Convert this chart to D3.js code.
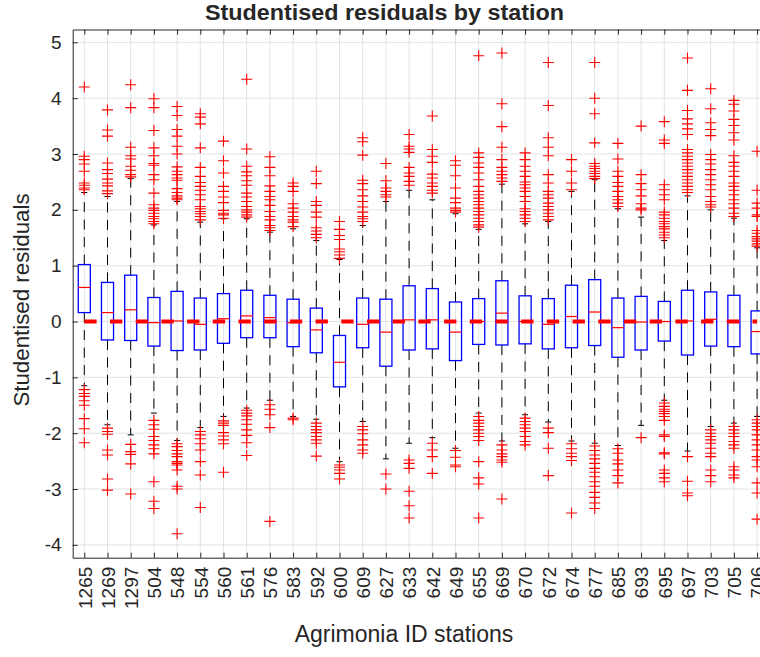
<!DOCTYPE html>
<html>
<head>
<meta charset="utf-8">
<script src="https://cdn.jsdelivr.net/npm/d3@7/dist/d3.min.js"></script>
<style>
  html, body { margin: 0; padding: 0; background: #fff; }
  svg { display: block; }
  text { font-family: "Liberation Sans", Arial, Helvetica, sans-serif; fill: #262626; }
</style>
</head>
<body>
<div id="chart"></div>
<script>
const stations = ["1265","1269","1297","504","548","554","560","561","576","583","592","600","609","627","633","642","649","655","669","670","672","674","677","685","693","695","697","703","705","706"];
const q3 = [1.02,0.70,0.83,0.43,0.54,0.42,0.50,0.56,0.47,0.40,0.24,-0.25,0.42,0.40,0.64,0.59,0.35,0.41,0.73,0.46,0.41,0.65,0.75,0.42,0.45,0.36,0.56,0.53,0.47,0.19];
const q1 = [0.16,-0.33,-0.34,-0.44,-0.52,-0.51,-0.39,-0.29,-0.29,-0.45,-0.56,-1.17,-0.47,-0.80,-0.51,-0.49,-0.70,-0.41,-0.42,-0.40,-0.49,-0.47,-0.43,-0.64,-0.51,-0.35,-0.60,-0.44,-0.45,-0.58];
const medians = [0.61,0.16,0.21,-0.02,0.01,-0.05,0.05,0.10,0.07,-0.02,-0.15,-0.73,-0.05,-0.19,0.03,0.03,-0.19,0.00,0.15,0.00,-0.05,0.09,0.17,-0.11,-0.01,0.00,0.01,0.04,0.00,-0.18];
const whiskHi = [2.31,2.24,2.56,1.73,2.15,1.78,1.84,1.84,1.60,1.66,1.45,1.11,1.72,2.15,2.35,2.18,1.93,1.65,2.46,1.75,1.79,2.33,2.54,2.02,1.87,1.45,2.25,2.00,1.85,1.32];
const whiskLo = [-1.15,-1.85,-2.03,-1.64,-2.13,-1.90,-1.70,-1.55,-1.41,-1.70,-1.75,-2.51,-1.79,-2.46,-2.18,-2.08,-2.27,-1.64,-2.14,-1.67,-1.80,-2.14,-2.18,-2.22,-1.86,-1.41,-2.32,-1.88,-1.82,-1.70];
const outHigh = [
  [4.20,2.96,2.90,2.82,2.69,2.48,2.44,2.39,2.36],
  [3.79,3.43,3.32,2.84,2.72,2.65,2.55,2.48,2.43,2.34,2.29],
  [4.24,3.83,3.12,2.97,2.91,2.78,2.71,2.63,2.59],
  [3.99,3.83,3.42,3.11,2.97,2.83,2.80,2.63,2.54,2.30,2.09,2.03,1.99,1.94,1.88,1.84,1.79,1.75],
  [3.85,3.69,3.44,3.32,3.14,3.00,2.77,2.69,2.63,2.57,2.53,2.38,2.31,2.25,2.21,2.18],
  [3.72,3.66,3.54,3.11,2.76,2.60,2.49,2.42,2.35,2.27,2.18,2.06,2.02,1.97,1.93,1.88,1.82],
  [3.23,2.88,2.66,2.42,2.33,2.23,2.13,1.99,1.94,1.91,1.85],
  [4.34,3.09,2.78,2.68,2.61,2.52,2.44,2.30,2.23,2.15,2.06,2.00,1.96,1.91,1.87],
  [2.95,2.76,2.61,2.43,2.33,2.24,2.18,2.08,1.97,1.88,1.82,1.72,1.68,1.63],
  [2.48,2.42,2.33,2.11,2.03,1.96,1.88,1.82,1.78,1.70],
  [2.69,2.47,2.15,2.08,1.96,1.87,1.68,1.62,1.56,1.50],
  [1.79,1.65,1.54,1.47,1.30,1.25,1.19,1.13],
  [3.29,3.22,2.98,2.53,2.47,2.36,2.25,2.15,2.05,1.96,1.88,1.84,1.79],
  [2.83,2.52,2.39,2.33,2.27,2.23],
  [3.35,3.14,3.09,3.03,2.76,2.66,2.60,2.51,2.44],
  [3.68,3.08,2.96,2.85,2.64,2.57,2.48,2.42,2.35,2.30],
  [2.88,2.80,2.61,2.39,2.21,2.13,2.03,1.99,1.96],
  [4.76,3.02,2.94,2.84,2.76,2.66,2.54,2.42,2.33,2.27,2.21,2.15,2.09,2.03,1.97,1.91,1.85,1.79,1.73,1.69],
  [4.81,3.90,3.49,3.12,2.90,2.76,2.69,2.63,2.57,2.51],
  [3.02,2.90,2.78,2.69,2.60,2.50,2.45,2.39,2.33,2.24,2.15,2.02,1.97,1.91,1.85,1.79],
  [4.64,3.87,3.29,3.12,2.97,2.63,2.48,2.33,2.27,2.21,2.12,2.06,2.00,1.94,1.88,1.82],
  [2.90,2.69,2.48,2.36],
  [4.64,4.00,3.72,3.20,2.83,2.78,2.74,2.69,2.65,2.60,2.56],
  [3.19,2.91,2.69,2.60,2.49,2.42,2.33,2.24,2.18,2.12,2.06],
  [3.50,2.63,2.47,2.36,2.25,2.11,2.03,2.00],
  [3.58,3.25,3.19,2.45,2.36,2.27,2.18,1.96,1.91,1.85,1.79,1.75,1.70,1.66,1.60,1.55,1.50],
  [4.72,4.14,3.78,3.63,3.54,3.45,3.35,3.08,3.02,2.96,2.90,2.84,2.78,2.72,2.66,2.60,2.54,2.48,2.42,2.36,2.31],
  [4.17,3.81,3.56,3.44,3.33,2.99,2.90,2.82,2.72,2.63,2.54,2.45,2.36,2.24,2.15,2.09,2.05],
  [3.96,3.89,3.77,3.62,3.51,3.38,3.25,2.97,2.85,2.78,2.69,2.60,2.48,2.42,2.35,2.27,2.18,2.11,2.03,1.94,1.88],
  [3.05,2.35,2.12,2.03,1.91,1.88,1.63,1.58,1.52,1.48,1.44,1.39,1.35]
];
const outLow = [
  [-1.22,-1.29,-1.34,-1.42,-1.50,-1.74,-1.92,-2.17],
  [-1.91,-1.97,-2.02,-2.30,-2.39,-2.82,-3.02],
  [-2.20,-2.33,-2.38,-2.55,-3.09],
  [-1.77,-1.85,-1.93,-2.06,-2.13,-2.21,-2.28,-2.37,-2.87,-3.22,-3.35],
  [-2.19,-2.24,-2.31,-2.37,-2.42,-2.51,-2.54,-2.57,-2.66,-2.95,-3.00,-3.80],
  [-1.97,-2.03,-2.10,-2.19,-2.30,-2.51,-2.75,-3.33],
  [-1.78,-1.82,-1.86,-1.99,-2.05,-2.12,-2.19,-2.70],
  [-1.59,-1.64,-1.69,-1.76,-1.84,-1.94,-2.04,-2.17,-2.40],
  [-1.49,-1.57,-1.67,-1.90,-3.58],
  [-1.73,-1.76],
  [-1.82,-1.88,-1.94,-1.99,-2.06,-2.12,-2.18,-2.41],
  [-2.57,-2.61,-2.66,-2.72,-2.82],
  [-1.88,-1.94,-2.01,-2.12,-2.21,-2.30,-2.36],
  [-2.73,-3.00],
  [-2.48,-2.54,-2.63,-3.04,-3.30,-3.52],
  [-2.18,-2.30,-2.42,-2.72],
  [-2.31,-2.43,-2.57,-2.60],
  [-1.70,-1.77,-1.82,-1.88,-1.94,-2.00,-2.06,-2.13,-2.51,-2.80,-2.91,-3.52],
  [-2.21,-2.30,-2.37,-2.42,-2.48,-2.52,-3.18],
  [-1.73,-1.79,-1.85,-1.91,-1.97,-2.06,-2.15,-2.21],
  [-1.91,-1.99,-2.27,-2.76],
  [-2.19,-2.28,-2.36,-2.42,-2.49,-3.43],
  [-2.23,-2.31,-2.39,-2.46,-2.54,-2.63,-2.70,-2.78,-2.87,-2.95,-3.06,-3.15,-3.25,-3.35],
  [-2.28,-2.36,-2.48,-2.55,-2.66,-2.76,-2.89],
  [-2.08],
  [-1.46,-1.52,-1.57,-1.61,-1.65,-1.70,-1.77,-2.03,-2.06,-2.35,-2.37,-2.66,-2.72,-2.80,-2.87],
  [-2.42,-2.86,-3.07,-3.12],
  [-1.94,-2.00,-2.06,-2.12,-2.18,-2.27,-2.36,-2.42,-2.66,-2.76,-2.87],
  [-1.88,-1.94,-2.00,-2.06,-2.15,-2.21,-2.27,-2.60,-2.66,-2.75,-2.80],
  [-1.76,-1.82,-1.88,-1.94,-2.03,-2.12,-2.21,-2.30,-2.42,-2.48,-2.60,-2.89,-3.07,-3.54]
];
const yTicks = [-4,-3,-2,-1,0,1,2,3,4,5];
const titleText = "Studentised residuals by station";
const xLabelText = "Agrimonia ID stations";
const yLabelText = "Studentised residuals";

const W = 760, H = 657;
const svg = d3.select("#chart").append("svg").attr("width", W).attr("height", H);

const x = d3.scaleLinear().domain([0.5, stations.length + 0.5]).range([72.7, 768.7]);
const y = d3.scaleLinear().domain([-4.23, 5.23]).range([557.7, 29.5]);
const idx = d3.range(1, stations.length + 1);
const [x0, x1] = x.range();
const [yB, yT] = y.range();

// grid
const grid = svg.append("g").attr("stroke", "#e3e3e3").attr("stroke-width", 1);
grid.selectAll("line.gx").data(idx).join("line")
  .attr("x1", d => x(d)).attr("x2", d => x(d)).attr("y1", yT).attr("y2", yB);
grid.selectAll("line.gy").data(yTicks).join("line")
  .attr("x1", x0).attr("x2", x1).attr("y1", d => y(d)).attr("y2", d => y(d));

const bw = 0.26, cw = 0.13;
const g = svg.append("g");
// whiskers
g.selectAll("line.wh").data(idx).join("line")
  .attr("x1", d => x(d)).attr("x2", d => x(d))
  .attr("y1", d => y(q3[d-1])).attr("y2", d => y(whiskHi[d-1]))
  .attr("stroke", "#000").attr("stroke-width", 1).attr("stroke-dasharray", "10,7.5");
g.selectAll("line.wl").data(idx).join("line")
  .attr("x1", d => x(d)).attr("x2", d => x(d))
  .attr("y1", d => y(q1[d-1])).attr("y2", d => y(whiskLo[d-1]))
  .attr("stroke", "#000").attr("stroke-width", 1).attr("stroke-dasharray", "10,7.5");
// caps
g.selectAll("line.ch").data(idx).join("line")
  .attr("x1", d => x(d - cw)).attr("x2", d => x(d + cw))
  .attr("y1", d => y(whiskHi[d-1])).attr("y2", d => y(whiskHi[d-1]))
  .attr("stroke", "#000").attr("stroke-width", 1);
g.selectAll("line.cl").data(idx).join("line")
  .attr("x1", d => x(d - cw)).attr("x2", d => x(d + cw))
  .attr("y1", d => y(whiskLo[d-1])).attr("y2", d => y(whiskLo[d-1]))
  .attr("stroke", "#000").attr("stroke-width", 1);
// boxes
g.selectAll("rect.box").data(idx).join("rect")
  .attr("x", d => x(d - bw)).attr("width", d => x(d + bw) - x(d - bw))
  .attr("y", d => y(q3[d-1])).attr("height", d => y(q1[d-1]) - y(q3[d-1]))
  .attr("fill", "none").attr("stroke", "#0000ff").attr("stroke-width", 1.3);
// medians
g.selectAll("line.med").data(idx).join("line")
  .attr("x1", d => x(d - bw)).attr("x2", d => x(d + bw))
  .attr("y1", d => y(medians[d-1])).attr("y2", d => y(medians[d-1]))
  .attr("stroke", "#ff0000").attr("stroke-width", 1.2);
// outliers
const pts = [];
idx.forEach(d => {
  outHigh[d-1].forEach(v => pts.push([d, v]));
  outLow[d-1].forEach(v => pts.push([d, v]));
});
const s = 5.5;
g.selectAll("path.out").data(pts).join("path")
  .attr("d", p => {
    const px = x(p[0]), py = y(p[1]);
    return `M${px - s},${py}H${px + s}M${px},${py - s}V${py + s}`;
  })
  .attr("fill", "none").attr("stroke", "#ff0000").attr("stroke-width", 1.1);
// zero dashed line
svg.append("line")
  .attr("x1", x(1)).attr("x2", x(stations.length)).attr("y1", y(0)).attr("y2", y(0))
  .attr("stroke", "#ff0000").attr("stroke-width", 4).attr("stroke-dasharray", "12.3,13.4");

// axes
const axColor = "#262626";
const xAxisB = svg.append("g").attr("transform", `translate(0,${yB})`)
  .call(d3.axisBottom(x).tickValues(idx).tickFormat(d => stations[d-1]).tickSizeInner(-5).tickSizeOuter(0));
const xAxisT = svg.append("g").attr("transform", `translate(0,${yT})`)
  .call(d3.axisTop(x).tickValues(idx).tickFormat("").tickSizeInner(-5).tickSizeOuter(0));
const yAxisL = svg.append("g").attr("transform", `translate(${x0},0)`)
  .call(d3.axisLeft(y).tickValues(yTicks).tickFormat(d3.format("d")).tickSizeInner(-5).tickSizeOuter(0));
[xAxisB, xAxisT, yAxisL].forEach(a => {
  a.select(".domain").attr("stroke", axColor).attr("stroke-width", 1);
  a.selectAll(".tick line").attr("stroke", axColor);
});
xAxisB.selectAll(".tick text")
  .attr("transform", "rotate(-90)")
  .attr("text-anchor", "end")
  .attr("x", -9).attr("y", 0).attr("dy", "0.36em")
  .style("font-size", "19px").attr("fill", axColor);
yAxisL.selectAll(".tick text")
  .attr("x", -11)
  .style("font-size", "19px").attr("fill", axColor);
yAxisL.selectAll("text").text(d => d < 0 ? "-" + Math.abs(d) : d);

// title & labels
svg.append("text").attr("x", 384.5).attr("y", 19.5).attr("text-anchor", "middle")
  .attr("textLength", 359).attr("lengthAdjust", "spacingAndGlyphs")
  .style("font-size", "22px").style("font-weight", "bold").attr("fill", "#000").text(titleText);
svg.append("text").attr("x", 404).attr("y", 642).attr("text-anchor", "middle")
  .style("font-size", "23px").attr("fill", axColor).text(xLabelText);
svg.append("text").attr("transform", `translate(28.5,300) rotate(-90)`)
  .attr("text-anchor", "middle").style("font-size", "22.3px").attr("fill", axColor).text(yLabelText);
</script>
</body>
</html>
